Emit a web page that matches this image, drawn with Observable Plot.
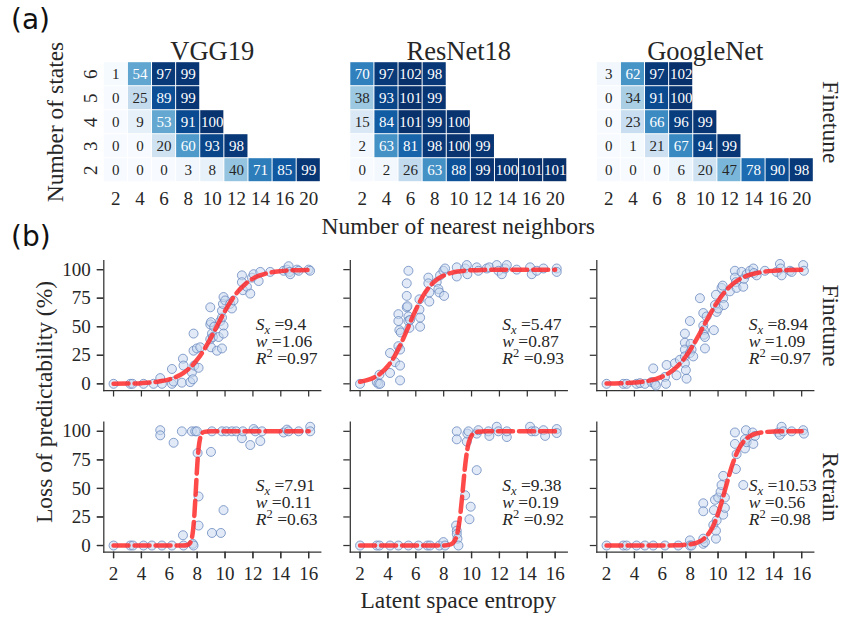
<!DOCTYPE html>
<html><head><meta charset="utf-8">
<script src="https://cdn.jsdelivr.net/npm/d3@7"></script>
<script src="https://cdn.jsdelivr.net/npm/@observablehq/plot@0.6"></script>
<style>
body{margin:0;background:#fff;}
#fig{position:relative;width:848px;height:619px;overflow:hidden;font-family:"Liberation Serif",serif;color:#262626;background:#fff;}
.lbl{position:absolute;white-space:nowrap;line-height:1;}
#fig svg{position:absolute;left:0;}
</style></head><body><div id="fig"></div>
<script>
// ---------- categories ----------
const models = ["VGG19", "ResNet18", "GoogleNet"];
const methods = ["Finetune", "Retrain"];
const neighbors = [2, 4, 6, 8, 10, 12, 14, 16, 20];
const states = [6, 5, 4, 3, 2];
const xTicks = [2, 4, 6, 8, 10, 12, 14, 16];
const yTicks = [0, 25, 50, 75, 100];

// ---------- (a) heatmap values (rows: states 6..2, cols: neighbors) ----------
const vgg19Heat = [
  [1, 54, 97, 99],
  [0, 25, 89, 99],
  [0, 9, 53, 91, 100],
  [0, 0, 20, 60, 93, 98],
  [0, 0, 0, 3, 8, 40, 71, 85, 99]
];
const resnet18Heat = [
  [70, 97, 102, 98],
  [38, 93, 101, 99],
  [15, 84, 101, 99, 100],
  [2, 63, 81, 98, 100, 99],
  [0, 2, 26, 63, 88, 99, 100, 101, 101]
];
const googlenetHeat = [
  [3, 62, 97, 102],
  [0, 34, 91, 100],
  [0, 23, 66, 96, 99],
  [0, 1, 21, 67, 94, 99],
  [0, 0, 0, 6, 20, 47, 78, 90, 98]
];

// ---------- (b) scatter points [entropy, loss %] ----------
const vgg19FinetunePts = [[2,0],[3.2,0],[3.36,0],[4.15,0],[4.87,0],[5.35,5],[5.47,0],[6.19,13],[6.19,0],[6.3,2],[6.9,1],[6.98,22],[7.02,16],[7.5,1.5],[7.62,10],[7.69,4],[7.74,44],[7.74,29],[7.79,16],[7.98,31],[8.1,14],[8.22,32],[8.94,52],[8.94,67],[8.99,54],[9.06,44],[8.94,39],[8.99,32],[9.13,41],[9.22,50],[9.42,29],[9.54,41],[9.66,55],[9.78,31],[9.78,58],[9.89,51],[9.89,44],[9.78,64],[9.85,70],[9.89,76],[10.01,73],[10.37,70],[10.49,66],[10.61,73],[11.21,95],[11.21,89],[11.28,82],[11.57,85],[11.81,79],[11.93,93],[12.05,96],[12.41,90],[12.53,98],[13.24,98],[14.2,99],[14.44,100],[14.56,103],[14.63,98],[14.68,96],[15.16,100],[15.28,99],[16,100],[16.1,99]];
const resnet18FinetunePts = [[2,0],[3.2,1.5],[3.32,0],[3.44,0],[3.39,8],[4.15,9.5],[4.15,27],[4.51,19],[4.75,61],[4.75,55],[4.82,47],[4.75,33],[4.87,30],[4.87,16],[4.87,3],[4.92,45],[5.35,88],[5.35,77],[5.35,67],[5.4,68],[5.47,99],[5.47,59],[5.47,55],[5.54,49],[5.59,56],[6.26,74],[6.26,65],[6.31,58],[6.31,50],[6.9,93],[6.9,88],[6.97,80],[6.97,72],[7.5,89],[7.62,83],[7.69,80],[7.74,95],[8.03,77],[7.98,99],[8.1,101],[8.94,102],[8.94,94],[9.54,101],[9.66,104],[9.7,96],[10.37,102],[10.49,99],[11.09,101],[11.28,102],[11.81,104],[11.93,99],[12.17,96],[12.41,101],[12.53,104],[13.24,100],[14.2,102],[14.32,96],[14.68,99],[15.16,101],[16.11,101],[16.11,98]];
const googlenetFinetunePts = [[2,0],[3.2,0],[3.44,0],[4.15,0],[4.39,0.6],[4.75,0],[5.23,1.5],[5.35,13.5],[5.47,0],[5.54,-1.5],[6.19,6],[6.26,0],[6.31,16.5],[6.9,18],[7.02,7.5],[7.26,21],[7.62,44],[7.62,36],[7.62,30],[7.62,24],[7.62,18],[7.69,12],[7.74,4.5],[7.98,27],[8.03,35],[8.1,30],[8.22,24],[7.98,55],[8.7,75],[8.94,51],[8.94,62],[8.99,47],[8.99,43],[9.06,41],[9.06,31],[9.18,59],[9.7,47],[9.78,69],[9.85,78],[9.9,63],[10.01,66],[10.25,84],[10.33,86],[10.37,75],[10.42,69],[10.85,81],[11.21,99],[11.21,93],[11.28,89],[11.33,84],[11.69,98],[11.81,85],[11.86,92],[12.05,96],[12.29,99],[12.53,101],[12.57,97],[12.77,95],[13.36,99],[14.2,98],[14.44,105],[14.49,101],[14.56,95],[15.16,99],[15.28,98],[16.11,104],[16.16,99]];
const vgg19RetrainPts = [[2,0],[3.2,0],[3.39,0],[4.15,0],[4.75,0],[5.35,101],[5.35,96.5],[5.47,0],[6.19,0],[6.31,90],[6.9,100],[6.98,9],[7.02,0],[7.62,100],[7.69,1.5],[7.74,0],[7.86,100],[7.98,100],[8.03,81],[8.1,17.5],[8.1,43],[8.99,82],[9.06,11],[9.06,100],[9.7,11],[9.78,100],[9.89,31],[10.1,100],[10.49,100],[10.8,100],[11.21,94],[11.28,100],[11.81,88],[12.05,102],[12.17,100],[12.53,91.5],[12.65,100],[14.2,99],[14.44,101.5],[14.56,100],[15.28,100],[16.11,104],[16.11,100]];
const resnet18RetrainPts = [[2,0],[3.2,0],[3.39,0],[4.15,0],[4.75,0],[5.47,0],[6.19,0],[6.83,0],[7.02,0],[7.69,0],[7.98,3],[8.1,0],[8.89,17.5],[8.94,13],[8.94,10],[8.99,6],[9.06,0],[8.94,100],[8.94,93],[9.54,44],[9.66,91],[9.7,98],[9.78,100],[9.85,23],[9.94,34],[10.37,66],[10.37,98],[10.49,101],[11.21,100],[11.28,96],[11.81,104],[11.93,100],[12.53,95],[12.53,100],[14.2,104],[14.32,100],[14.56,100],[15.16,101],[15.28,96],[16.11,102],[16.11,98.5]];
const googlenetRetrainPts = [[2,0],[3.2,0],[3.44,0],[4.15,0],[4.75,0],[5.35,0],[6.19,0],[7.14,0],[7.98,4.5],[7.98,0],[8.1,0],[8.94,1.5],[8.94,6],[9.06,3],[8.94,37],[8.94,30],[9.66,18],[9.7,31],[9.78,40],[9.85,6],[9.85,13],[9.9,22],[10.01,42],[10.18,47],[10.25,53],[10.37,61],[10.37,27],[10.49,42],[10.49,33],[11.28,67],[11.81,53],[11.21,99],[11.21,89],[11.33,80],[11.93,85],[11.93,93],[12.0,101],[12.05,90.5],[12.48,99],[12.53,89],[12.65,96],[14.32,99],[14.44,97],[14.56,104],[14.68,100],[15.28,100],[16.11,101],[16.16,98]];

// ---------- (b) fitted sigmoid curves [entropy, loss %] ----------
const vgg19FinetuneFit = [[2,0.1],[3,0.2],[4,0.6],[5,1.6],[6,3.9],[6.5,6.1],[7,9.4],[7.5,14.3],[8,21.1],[8.5,30],[9,40.7],[9.5,52.4],[10,63.8],[10.5,73.9],[11,81.9],[11.5,87.9],[12,92.1],[12.5,94.9],[13,96.8],[14,98.7],[15,99.5],[16,99.8]];
const resnet18FinetuneFit = [[2,1.8],[2.5,3.2],[3,5.5],[3.5,9.4],[4,15.6],[4.5,24.7],[5,36.8],[5.5,50.9],[6,64.8],[6.5,76.6],[7,85.3],[7.5,91.2],[8,94.8],[8.5,97],[9,98.3],[10,99.5],[11,99.8],[12,99.95],[14,100],[16,100]];
const googlenetFinetuneFit = [[2,0.2],[3,0.4],[4,1.1],[5,2.6],[6,6.3],[6.5,9.6],[7,14.4],[7.5,21],[8,29.7],[8.5,40],[9,51.4],[9.5,62.6],[10,72.6],[10.5,80.7],[11,86.9],[11.5,91.3],[12,94.3],[13,97.6],[14,99],[15,99.6],[16,99.8]];
const vgg19RetrainFit = [[2,0],[3,0],[4,0],[5,0],[6,0],[7,0],[7.3,0.4],[7.5,2.4],[7.6,5.6],[7.7,12.9],[7.8,26.9],[7.9,47.7],[8,69.4],[8.1,84.9],[8.2,93.3],[8.3,97.2],[8.5,99.5],[9,100],[10,100],[12,100],[14,100],[16,100]];
const resnet18RetrainFit = [[2,0],[4,0],[6,0],[8,0.1],[8.5,1],[8.7,2.7],[8.9,7.4],[9,11.9],[9.1,18.7],[9.2,27.9],[9.3,39.6],[9.4,52.6],[9.5,65.3],[9.6,76.1],[9.7,84.3],[9.8,90.1],[10,96.3],[10.2,98.7],[10.5,99.7],[11,100],[12,100],[14,100],[16,100]];
const googlenetRetrainFit = [[2,0],[4,0],[6,0],[7,0.2],[7.5,0.5],[8,1.1],[8.5,2.6],[9,6.1],[9.5,13.7],[9.75,19.9],[10,28],[10.25,37.7],[10.5,48.7],[10.75,59.7],[11,69.8],[11.5,85],[12,93.2],[12.5,97.1],[13,98.8],[14,99.8],[15,100],[16,100]];

// ---------- fit statistics (per model, in model order) ----------
const finetuneSx = ["9.4", "5.47", "8.94"];
const finetuneW = ["1.06", "0.87", "1.09"];
const finetuneR2 = ["0.97", "0.93", "0.97"];
const retrainSx = ["7.91", "9.38", "10.53"];
const retrainW = ["0.11", "0.19", "0.56"];
const retrainR2 = ["0.63", "0.92", "0.98"];

// ---------- build tables ----------
const heatCells = [];
[[models[0], vgg19Heat], [models[1], resnet18Heat], [models[2], googlenetHeat]].forEach(([m, grid]) =>
  grid.forEach((row, i) => row.forEach((v, j) => heatCells.push({model: m, s: states[i], k: neighbors[j], v}))));

const pointSets = [
  ["VGG19", "Finetune", vgg19FinetunePts, vgg19FinetuneFit],
  ["ResNet18", "Finetune", resnet18FinetunePts, resnet18FinetuneFit],
  ["GoogleNet", "Finetune", googlenetFinetunePts, googlenetFinetuneFit],
  ["VGG19", "Retrain", vgg19RetrainPts, vgg19RetrainFit],
  ["ResNet18", "Retrain", resnet18RetrainPts, resnet18RetrainFit],
  ["GoogleNet", "Retrain", googlenetRetrainPts, googlenetRetrainFit]
];
const points = [], curves = [];
for (const [m, meth, pts, fit] of pointSets) {
  pts.forEach(([x, y]) => points.push({model: m, method: meth, x, y}));
  fit.forEach(([x, y]) => curves.push({model: m, method: meth, x, y}));
}
const stats = [];
models.forEach((m, i) => {
  stats.push({model: m, method: "Finetune", sx: "Sx =" + finetuneSx[i], w: "w =" + finetuneW[i], r2: "R2 =" + finetuneR2[i]});
  stats.push({model: m, method: "Retrain", sx: "Sx =" + retrainSx[i], w: "w =" + retrainW[i], r2: "R2 =" + retrainR2[i]});
});

const fig = document.getElementById("fig");
const baseStyle = {fontFamily: '"Liberation Serif", serif', fontSize: "19px", color: "#262626", background: "transparent", overflow: "visible"};
const ink = "#262626";

// ---------- (a) heatmaps ----------
const heat = Plot.plot({
  width: 848, height: 212,
  marginLeft: 103.3, marginRight: 34.7, marginTop: 61.7, marginBottom: 30.3,
  style: baseStyle,
  fx: {domain: models, paddingInner: 0.1197, paddingOuter: 0, round: false},
  x: {type: "band", domain: neighbors, padding: 0, round: false},
  y: {type: "band", domain: states, padding: 0, round: false},
  color: {scheme: "blues", domain: [0, 101]},
  marks: [
    Plot.cell(heatCells, {fx: "model", x: "k", y: "s", fill: "v", inset: 0.5}),
    Plot.text(heatCells, {fx: "model", x: "k", y: "s", text: "v", filter: d => d.v >= 50, fill: "white", fontSize: 15}),
    Plot.text(heatCells, {fx: "model", x: "k", y: "s", text: "v", filter: d => d.v < 50, fill: ink, fontSize: 15}),
    Plot.axisFx({anchor: "top", label: null, tickSize: 0, tickPadding: 2, fontSize: 26.5}),
    Plot.axisX({anchor: "bottom", label: null, tickSize: 0, fontSize: 19}),
    Plot.axisY({anchor: "left", label: null, tickSize: 0, tickRotate: -90, tickPadding: 7, fontSize: 19}),
    Plot.text([{model: "GoogleNet", label: "Finetune"}], {fx: "model", text: "label", frameAnchor: "right", textAnchor: "middle", lineAnchor: "middle", rotate: 90, dx: 16.7, fontSize: 23.5, fill: ink})
  ]
});
heat.style.top = "0px";
fig.appendChild(heat);

// ---------- (b) scatter + sigmoid fits ----------
const scat = Plot.plot({
  width: 848, height: 379,
  marginLeft: 103.3, marginRight: 34.7, marginTop: 20, marginBottom: 67.3,
  style: baseStyle,
  fx: {domain: models, paddingInner: 0.1197, paddingOuter: 0, round: false, axis: null},
  fy: {domain: methods, paddingInner: 0.196, paddingOuter: 0, round: false, axis: null},
  x: {domain: [1.3, 16.87]},
  y: {domain: [-5.85, 108]},
  marks: [
    Plot.frame({anchor: "left", stroke: "#333", strokeWidth: 1.25}),
    Plot.frame({anchor: "bottom", stroke: "#333", strokeWidth: 1.25}),
    Plot.axisY({ticks: yTicks, tickSize: 6.5, tickFormat: () => "", facetAnchor: null, label: null, stroke: "#333", strokeWidth: 1.25}),
    Plot.axisY({ticks: yTicks, tickSize: 6.5, tickPadding: 6.5, label: null, fontSize: 19, stroke: "#333", strokeWidth: 1.25}),
    Plot.axisX({ticks: xTicks, tickSize: 6.5, tickFormat: () => "", facetAnchor: null, label: null, stroke: "#333", strokeWidth: 1.25}),
    Plot.axisX({ticks: xTicks, tickSize: 6.5, tickPadding: 8, label: null, fontSize: 19, stroke: "#333", strokeWidth: 1.25}),
    Plot.dot(points, {fx: "model", fy: "method", x: "x", y: "y", r: 4.5, fill: "#c9d9ef", fillOpacity: 0.55, stroke: "#6585bd", strokeWidth: 0.9, strokeOpacity: 0.85}),
    Plot.line(curves, {fx: "model", fy: "method", x: "x", y: "y", stroke: "#ff2a2a", strokeOpacity: 0.85, strokeWidth: 4.5, strokeDasharray: "15,6", curve: "monotone-x"}),
    Plot.text(stats, {fx: "model", fy: "method", text: "sx", frameAnchor: "top-left", textAnchor: "start", lineAnchor: "middle", dx: 152, dy: 63.6, fontSize: 17.5, fill: ink}),
    Plot.text(stats, {fx: "model", fy: "method", text: "w", frameAnchor: "top-left", textAnchor: "start", lineAnchor: "middle", dx: 152, dy: 80.4, fontSize: 17.5, fill: ink}),
    Plot.text(stats, {fx: "model", fy: "method", text: "r2", frameAnchor: "top-left", textAnchor: "start", lineAnchor: "middle", dx: 152, dy: 97.4, fontSize: 17.5, fill: ink}),
    Plot.text([{model: "GoogleNet", method: "Finetune"}, {model: "GoogleNet", method: "Retrain"}], {fx: "model", fy: "method", text: "method", frameAnchor: "right", textAnchor: "middle", lineAnchor: "middle", rotate: 90, dx: 16.7, fontSize: 23.5, fill: ink})
  ]
});
// math-style formatting of fit statistics
scat.querySelectorAll("text").forEach(t => {
  if (t.children.length) return;
  const s = t.textContent;
  let m;
  if ((m = s.match(/^Sx =(.*)$/))) {
    t.innerHTML = `<tspan font-style="italic">S</tspan><tspan font-style="italic" font-size="12.5" dy="4">x</tspan><tspan dy="-4"> =${m[1]}</tspan>`;
  } else if ((m = s.match(/^w =(.*)$/))) {
    t.innerHTML = `<tspan font-style="italic">w</tspan><tspan> =${m[1]}</tspan>`;
  } else if ((m = s.match(/^R2 =(.*)$/))) {
    t.innerHTML = `<tspan font-style="italic">R</tspan><tspan font-size="12.5" dy="-7">2</tspan><tspan dy="7"> =${m[1]}</tspan>`;
  }
});
scat.style.top = "240px";
fig.appendChild(scat);

// ---------- figure-level labels ----------
function addLabel(text, cx, cy, size, rotate, family) {
  const d = document.createElement("div");
  d.className = "lbl";
  d.textContent = text;
  d.style.left = cx + "px";
  d.style.top = cy + "px";
  d.style.fontSize = size + "px";
  if (family) d.style.fontFamily = family;
  d.style.transform = `translate(-50%,-50%) rotate(${rotate}deg)`;
  fig.appendChild(d);
}
function addCorner(text, left, top) {
  const d = document.createElement("div");
  d.className = "lbl";
  d.textContent = text;
  d.style.left = left + "px";
  d.style.top = top + "px";
  d.style.fontSize = "28px";
  d.style.fontFamily = '"DejaVu Sans", sans-serif';
  d.style.color = "#111";
  fig.appendChild(d);
}
addCorner("(a)", 11, 5.6);
addCorner("(b)", 11, 222.5);
addLabel("Number of states", 55.6, 121.7, 23.5, -90);
addLabel("Number of nearest neighbors", 458.3, 227, 23.5, 0);
addLabel("Loss of predictability (%)", 44.6, 402, 23.5, -90);
addLabel("Latent space entropy", 458.3, 601, 23.5, 0);
</script></body></html>
